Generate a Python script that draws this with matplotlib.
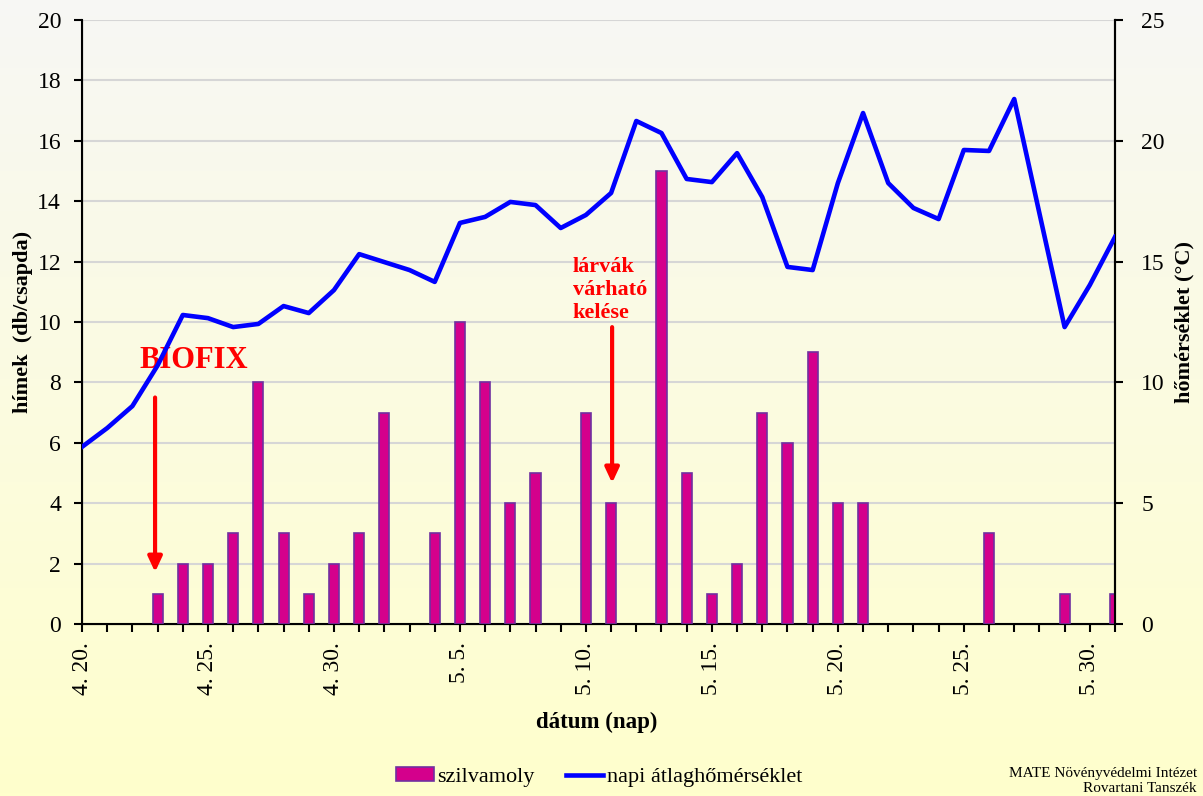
import matplotlib
matplotlib.use("Agg")
import matplotlib.pyplot as plt
import numpy as np
from matplotlib.patches import Patch
from matplotlib.lines import Line2D

plt.rcParams['font.family'] = ['Liberation Serif', 'DejaVu Serif']

# --- data: days from 4.20. to 5.31. ---
n_days = 42
moth_counts = [0, 0, 0, 1, 2, 2, 3, 8, 3, 1,
               2, 3, 7, 0, 3, 10, 8, 4, 5, 0,
               7, 4, 0, 15, 5, 1, 2, 7, 6, 9,
               4, 4, 0, 0, 0, 0, 3, 0, 0, 1,
               0, 1]
mean_temp = [7.33, 8.11, 9.02, 10.7, 12.79, 12.66, 12.29, 12.42, 13.16, 12.87,
             13.82, 15.31, 14.98, 14.65, 14.16, 16.6, 16.85, 17.47, 17.34, 16.39,
             16.93, 17.84, 20.82, 20.32, 18.42, 18.29, 19.49, 17.67, 14.78, 14.65,
             18.25, 21.15, 18.25, 17.22, 16.76, 19.62, 19.58, 21.73, 17.0, 12.29,
             14.03, 16.02]
label_days = [0, 5, 10, 15, 20, 25, 30, 35, 40]
date_labels = ["4. 20.", "4. 25.", "4. 30.", "5. 5.", "5. 10.",
               "5. 15.", "5. 20.", "5. 25.", "5. 30."]

days = np.arange(n_days)

fig = plt.figure(figsize=(12.03, 7.96), dpi=100)

# gradient background over the whole figure
bg = fig.add_axes([0, 0, 1, 1], zorder=-10)
top = np.array([0.97, 0.97, 0.96])
bottom = np.array([1.0, 1.0, 0.80])
t = np.linspace(0, 1, 256)[:, None]
grad = top + (bottom - top) * t
bg.imshow(grad[:, None, :], aspect='auto', extent=[0, 1, 0, 1])
bg.axis("off")

ax = fig.add_axes([82 / 1203, 1 - 624 / 796, (1115 - 82) / 1203, (624 - 20) / 796])
ax.set_facecolor('none')

# no outline on empty days
edge_w = [1.2 if v > 0 else 0 for v in moth_counts]
ax.bar(days, moth_counts, width=0.4, color='#D4008C', edgecolor='#7030A0',
       linewidth=edge_w, zorder=3)
ax.set_xlim(0, n_days - 1)
ax.set_ylim(0, 20)
ax.set_yticks(range(0, 21, 2))
ax.yaxis.grid(True, color='#D6D6D6', linewidth=1.5)
ax.set_axisbelow(True)

ax.set_xticks(days)
ax.set_xticklabels([date_labels[label_days.index(d)] if d in label_days else ""
                    for d in days], rotation=90)
ax.tick_params(axis='both', direction='out', length=6, width=1.5,
               labelsize=17, colors='black')
ax.tick_params(axis='x', pad=7)
ax.tick_params(axis='y', pad=9)
ax.spines['top'].set_visible(False)
for s in ['left', 'bottom', 'right']:
    ax.spines[s].set_linewidth(1.5)

ax.set_ylabel("hímek  (db/csapda)", fontsize=16, fontweight='bold')
ax.yaxis.set_label_coords(-0.047, 0.5)
ax.set_xlabel("dátum (nap)", fontsize=16.5, fontweight='bold')
ax.xaxis.set_label_coords(0.4985, -0.146)

ax2 = ax.twinx()
ax2.plot(days, mean_temp, color='#0000FF', linewidth=3.3, zorder=4)
ax2.set_ylim(0, 25)
ax2.set_yticks(range(0, 26, 5))
ax2.tick_params(axis='y', direction='out', length=6, width=1.5, labelsize=17, pad=13)
ax2.spines['top'].set_visible(False)
ax2.spines['right'].set_linewidth(1.5)
ax2.set_ylabel("hőmérséklet (°C)", fontsize=16, fontweight='bold', rotation=90)
ax2.yaxis.set_label_coords(1.058, 0.5)

# annotations
arrow_style = dict(arrowstyle='-|>,head_length=0.75,head_width=0.35', color='red',
                   lw=3, mutation_scale=12, shrinkA=0, shrinkB=0)
ax.text(4.42, 8.74, "BIOFIX", color='red', fontsize=22, fontweight='bold',
        ha='center', va='center', zorder=6)
ax.annotate('', xy=(2.9, 1.72), xytext=(2.9, 7.5), arrowprops=arrow_style, zorder=6)
ax.text(19.48, 12.15, "lárvák\nvárható\nkelése", color='red', fontsize=16,
        fontweight='bold', ha='left', va='top', linespacing=1.2, zorder=6)
ax.annotate('', xy=(21.04, 4.67), xytext=(21.04, 9.83), arrowprops=arrow_style, zorder=6)

# legend
handles = [Patch(facecolor='#D4008C', edgecolor='#7030A0', linewidth=1.2),
           Line2D([], [], color='#0000FF', linewidth=3.3)]
fig.legend(handles, ["szilvamoly", "napi átlaghőmérséklet"], loc='center',
           bbox_to_anchor=(599 / 1203, 1 - 777 / 796), ncol=2, frameon=False,
           fontsize=16, handlelength=1.7, handletextpad=0.15, columnspacing=1.4,
           handleheight=0.6)

fig.text(1197 / 1203, 1 - 774 / 796, "MATE Növényvédelmi Intézet", fontsize=11,
         ha='right', va='center')
fig.text(1197 / 1203, 1 - 789 / 796, "Rovartani Tanszék", fontsize=11,
         ha='right', va='center')

fig.savefig("out.png", dpi=100)
